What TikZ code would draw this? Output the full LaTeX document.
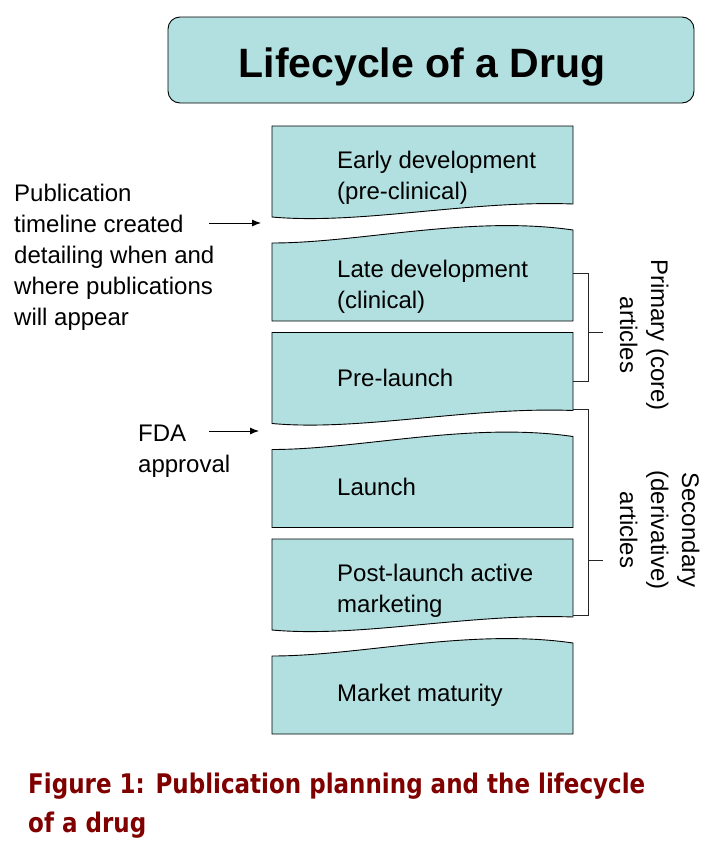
\documentclass[tikz,border=0pt]{standalone}
\usepackage{fontspec}
\setmainfont{Liberation Sans}
\newfontfamily\captionfont{DejaVu Sans}
\usepackage{graphicx}
\usetikzlibrary{arrows.meta}

\definecolor{stagefill}{RGB}{178,224,224}
\definecolor{captionred}{RGB}{128,0,0}

\tikzset{
  stage/.style={fill=stagefill, draw=black, line width=0.9pt},
  titlebox/.style={fill=stagefill, draw=black, line width=0.9pt, rounded corners=12pt,
    minimum width=526pt, minimum height=86pt, inner sep=0pt},
  stagetext/.style={anchor=north west, inner sep=0pt, align=left, font=\fontsize{24}{31}\selectfont},
  sidelabel/.style={rotate=-90, inner sep=0pt, align=center, font=\fontsize{24}{31}\selectfont},
  bracket/.style={draw=black!85, line width=0.8pt},
  pointer/.style={-{Latex[length=9pt,width=7pt]}, line width=0.9pt},
}

\begin{document}
\begin{tikzpicture}[x=1pt,y=-1pt]
\useasboundingbox (0,0) rectangle (726,846);

% title
\node[titlebox] (titlebox) at (431,60) {};
\node[anchor=base, font=\bfseries\fontsize{41}{49}\selectfont] (title) at (422,77) {Lifecycle of a Drug};

% stage boxes, cut in pairs
\foreach \dy in {0,206.5,413}{
  \begin{scope}[shift={(0,\dy)}]
    \draw[stage] (272,126) -- (573,126) -- (573,204)
      .. controls (470,200) and (360,225) .. (272,217) -- cycle;
    \draw[stage] (272,243) .. controls (360,243) and (470,215) .. (573,230)
      -- (573,321) -- (272,321) -- cycle;
  \end{scope}
}

\node[stagetext] (early) at (337,146.3) {\strut Early development\\\strut (pre-clinical)};
\node[stagetext] (late) at (337,255.3) {\strut Late development\\\strut (clinical)};
\node[stagetext] (prelaunch) at (337,364.3) {\strut Pre-launch};
\node[stagetext] (launch) at (337,473.3) {\strut Launch};
\node[stagetext] (postlaunch) at (337,559.3) {\strut Post-launch active\\\strut marketing};
\node[stagetext] (maturity) at (337,679.3) {\strut Market maturity};

% notes on the left
\node[stagetext] (timeline) at (14,179.3) {\strut Publication\\\strut timeline created\\
  \strut detailing when and\\\strut where publications\\\strut will appear};
\node[stagetext] (fda) at (138,419.3) {\strut FDA\\\strut approval};

\coordinate (tailA) at (209,223);
\coordinate (gapA) at (261,223);
\draw[pointer] (tailA) -- (gapA);
\coordinate (tailB) at (209,431);
\coordinate (gapB) at (259,431);
\draw[pointer] (tailB) -- (gapB);

% brackets on the right
\coordinate (lateR) at (573,273);
\coordinate (preR) at (573,381);
\draw[bracket] (lateR) -- ++(15,0) |- (preR);
\draw[bracket] (588,332) -- (603,332);
\coordinate (preC) at (573,409);
\coordinate (postR) at (573,615);
\draw[bracket] (preC) -- ++(15,0) |- (postR);
\draw[bracket] (588,560) -- (603,560);

\node[sidelabel] (primary) at (641.7,335) {\strut Primary (core)\\\strut articles};
\node[sidelabel] (secondary) at (657.2,530) {\strut Secondary\\\strut (derivative)\\\strut articles};

% caption
\node[anchor=base west, inner sep=0pt, text=captionred,
  font=\captionfont\bfseries\fontsize{27}{39}\selectfont] (caption) at (28,793)
  {\resizebox{617pt}{\height}{\begin{tabular}[t]{@{}l@{}}Figure 1: Publication planning and the lifecycle\\of a drug\end{tabular}}};
\end{tikzpicture}
\end{document}
